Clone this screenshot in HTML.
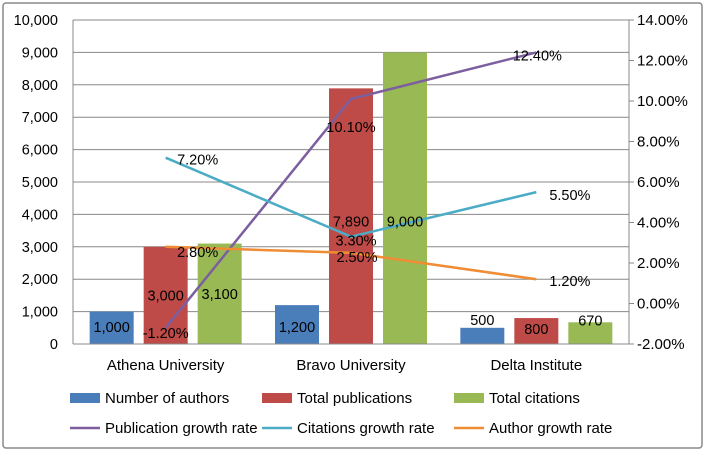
<!DOCTYPE html>
<html><head><meta charset="utf-8"><style>
body{margin:0;background:#fff;}
svg text{font-family:"Liberation Sans",sans-serif;font-size:14.5px;fill:#000;}
svg text.big{font-size:15px;}
</style></head><body>
<svg width="706" height="452">
<rect x="3" y="3" width="699" height="445" rx="3" fill="#fff" stroke="#888" stroke-width="1.5"/>
<g id="grid"></g><g id="bars"></g><g id="lines"></g><g id="labels"></g><g id="axes"></g>
<g id="legend"></g>
</svg>
<script>
const categories=["Athena University","Bravo University","Delta Institute"];
const authors=[1000,1200,500];
const publications=[3000,7890,800];
const citations=[3100,9000,670];
const pubGrowth=[-1.2,10.1,12.4];
const citGrowth=[7.2,3.3,5.5];
const authGrowth=[2.8,2.5,1.2];
const leftTicks=[0,1000,2000,3000,4000,5000,6000,7000,8000,9000,10000];
const rightTicks=[-2,0,2,4,6,8,10,12,14];
const L=73,R=629,T=20,B=344;
const NS="http://www.w3.org/2000/svg";
function el(p,t,a,txt){const e=document.createElementNS(NS,t);for(const k in a)e.setAttribute(k,a[k]);if(txt!==undefined)e.textContent=txt;document.getElementById(p).appendChild(e);return e;}
const yL=v=>B-(v/10000)*(B-T);
const yR=v=>B-((v+2)/16)*(B-T);
const cw=(R-L)/categories.length;
const xC=i=>L+cw*(i+0.5);
const fmt=v=>v.toLocaleString('en-US');
leftTicks.forEach(v=>{
 if(v>0){const g=el('grid','line',{x1:L,x2:R,y1:yL(v),y2:yL(v),stroke:'#888','stroke-width':1});
 }
 const t=el('axes','text',{x:L-15,y:yL(v)+5,'text-anchor':'end'},fmt(v));
 
});
rightTicks.forEach(v=>{
 el('axes','line',{x1:R,x2:R+5,y1:yR(v),y2:yR(v),stroke:'#888'});
 const t=el('axes','text',{x:R+8,y:yR(v)+5,'class':'big'},v.toFixed(2)+'%');
 
});
el('axes','line',{x1:L,x2:L,y1:T,y2:B,stroke:'#888'});
el('axes','line',{x1:R,x2:R,y1:T,y2:B,stroke:'#888'});
el('axes','line',{x1:L,x2:R,y1:B,y2:B,stroke:'#888'});
categories.forEach((c,i)=>{
 const t=el('axes','text',{x:xC(i),y:370,'text-anchor':'middle','class':'big'},c);
 
});
const bw=44,gap=10;
const bseries=[[authors,'#4a7ebb',-1],[publications,'#be4b48',0],[citations,'#98b954',1]];
bseries.forEach(([d,col,off],s)=>{
 d.forEach((v,i)=>{
  const x=xC(i)+off*(bw+gap)-bw/2;
  const r=el('bars','rect',{x:x,y:yL(v),width:bw,height:B-yL(v),fill:col});
  
  let ly;
  if(i==0){ ly = s==0 ? B-12 : (yL(v)+B)/2+5; }
  else if(i==1){ ly = s==0 ? B-12 : Math.max(yL(v)+20, yL(4000)+12); }
  else { ly = s==0 ? yL(v)-3 : (s==1 ? yL(v)+16 : yL(v)+3); }
  const t=el('labels','text',{x:x+bw/2,y:ly,'text-anchor':'middle'},fmt(v));
  
 });
});
// label offsets [dx, dy, anchor]
const lseries=[[pubGrowth,'#7d5fa0',[[0,10,'middle'],[0,33,'middle'],[1,8,'middle']]],
 [citGrowth,'#4bacc6',[[32,7,'middle'],[5,9,'middle'],[13,8,'start']]],
 [authGrowth,'#f08c34',[[32,10,'middle'],[6,9,'middle'],[13,7,'start']]]];
lseries.forEach(([d,col,lo])=>{
 const p=el('lines','polyline',{points:d.map((v,i)=>xC(i)+','+yR(v)).join(' '),fill:'none',stroke:col,'stroke-width':2.5});
 
 d.forEach((v,i)=>{
  const t=el('labels','text',{x:xC(i)+lo[i][0],y:yR(v)+lo[i][1],'text-anchor':lo[i][2]},v.toFixed(2)+'%');
  
 });
});
const leg=[['Number of authors','#4a7ebb','bar',70,398],['Total publications','#be4b48','bar',262,398],['Total citations','#98b954','bar',454,398],
['Publication growth rate','#7d5fa0','line',70,428],['Citations growth rate','#4bacc6','line',262,428],['Author growth rate','#f08c34','line',454,428]];
leg.forEach(([n,c,k,x,y])=>{
 if(k=='bar')el('legend','rect',{x:x,y:y-5,width:30,height:10,fill:c});
 else el('legend','line',{x1:x,x2:x+30,y1:y,y2:y,stroke:c,'stroke-width':2.5});
 const t=el('legend','text',{x:x+35,y:y+5,'class':'big'},n);
 
});
</script>
</body></html>
